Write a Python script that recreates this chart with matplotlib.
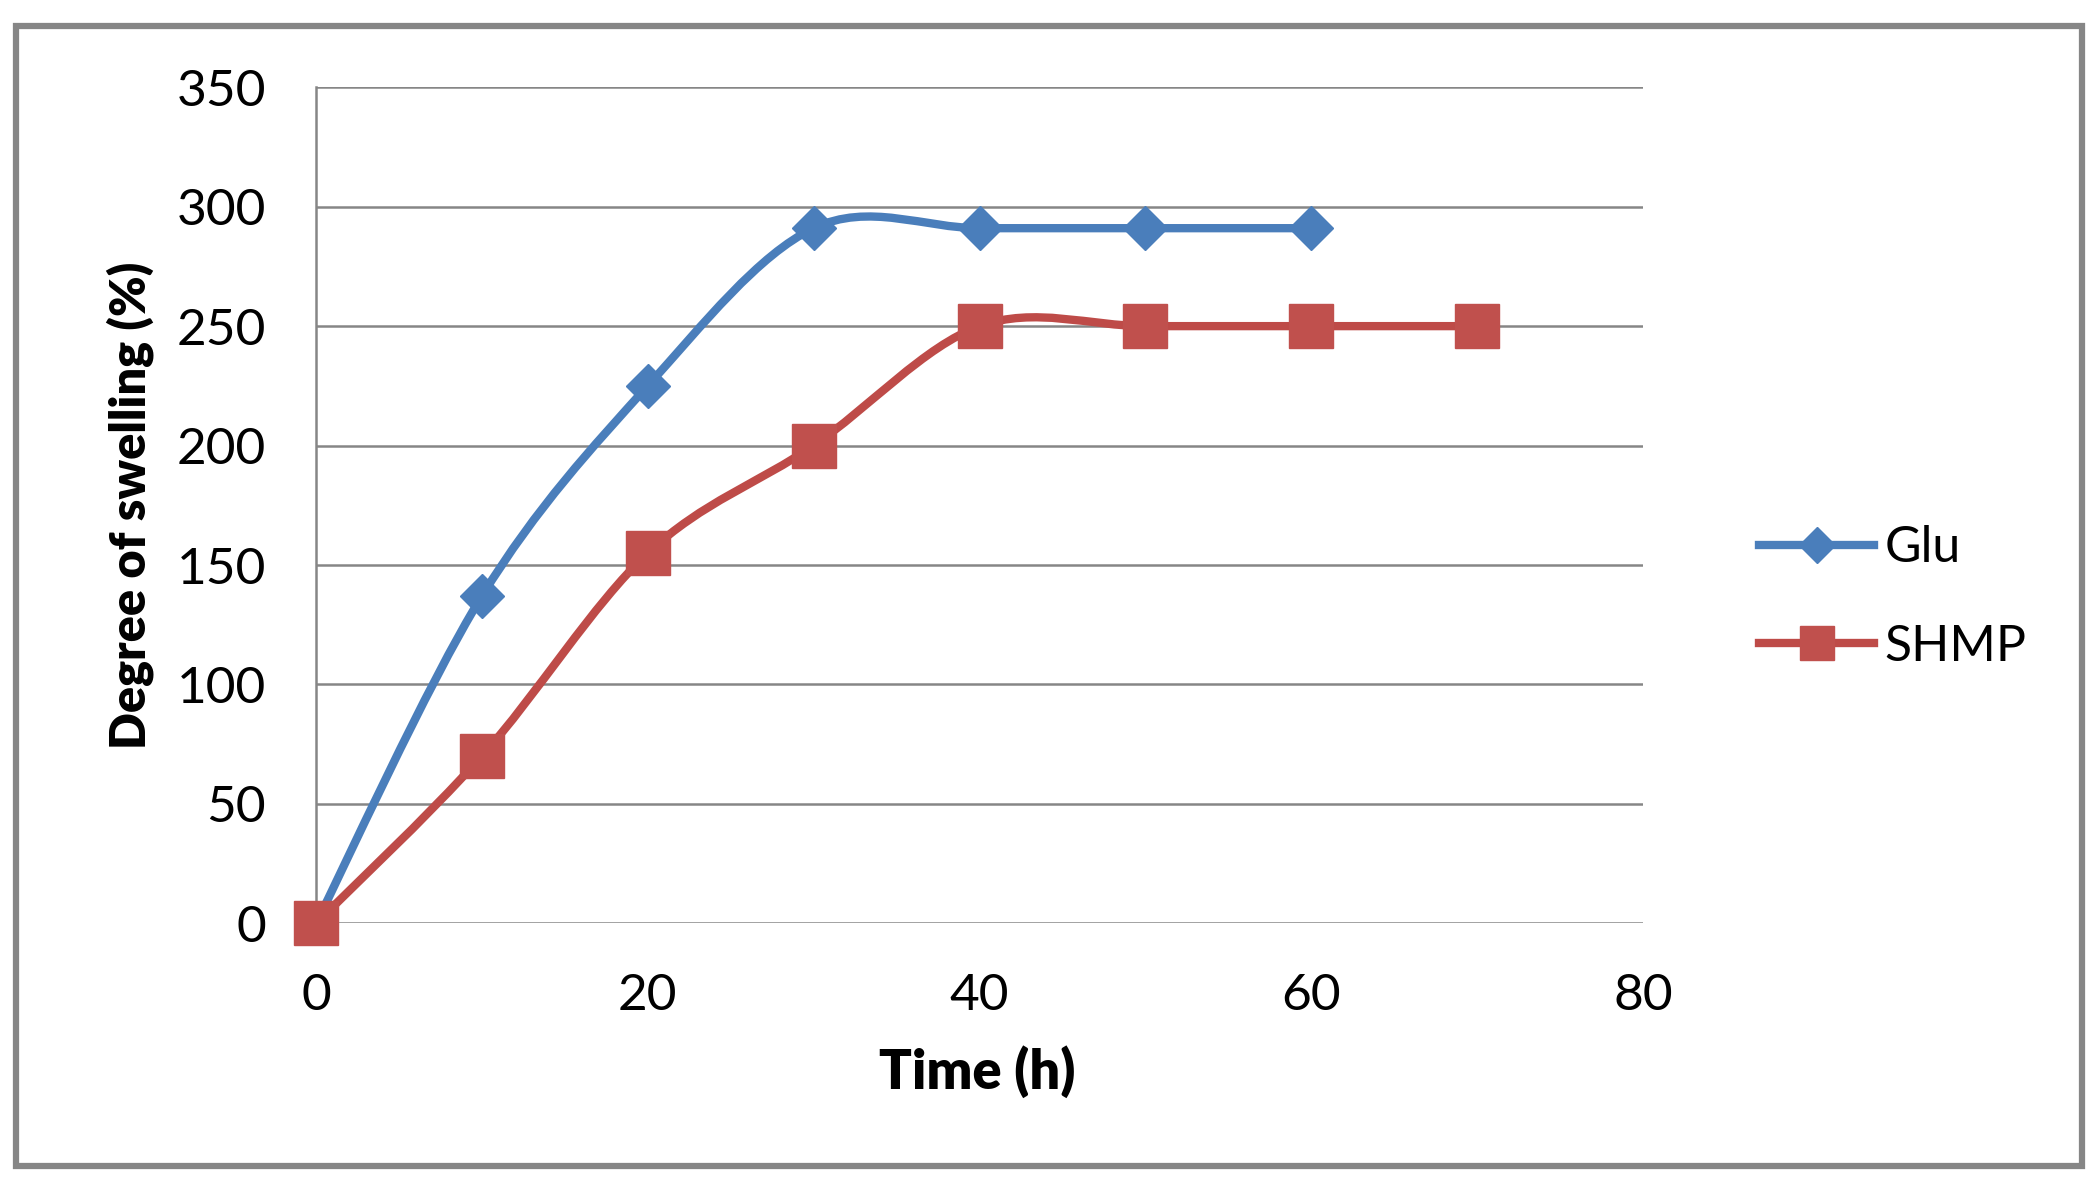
import numpy as np
import matplotlib.pyplot as plt
from matplotlib.path import Path
from matplotlib.patches import PathPatch, Rectangle
from matplotlib.lines import Line2D

plt.rcParams['font.family'] = ['Lato', 'DejaVu Sans']

# data
glu_time = [0, 10, 20, 30, 40, 50, 60]
glu_swelling = [0, 137, 225, 291, 291, 291, 291]
shmp_time = [0, 10, 20, 30, 40, 50, 60, 70]
shmp_swelling = [0, 70, 155, 200, 250, 250, 250, 250]
x_ticks = [0, 20, 40, 60, 80]
y_ticks = [0, 50, 100, 150, 200, 250, 300, 350]

blue = '#4A7EBB'
red = '#BE4B48'
grey = '#868686'


def smooth_path(xs, ys):
    # excel style smoothed line: cubic bezier through every point
    pts = np.column_stack([xs, ys]).astype(float)
    n = len(pts)
    verts = [pts[0]]
    codes = [Path.MOVETO]
    for i in range(n - 1):
        p0 = pts[i - 1] if i > 0 else pts[i]
        p1 = pts[i]
        p2 = pts[i + 1]
        p3 = pts[i + 2] if i + 2 < n else pts[i + 1]
        c1 = p1 + (p2 - p0) / 6.0
        c2 = p2 - (p3 - p1) / 6.0
        verts += [c1, c2, p2]
        codes += [Path.CURVE4] * 3
    return Path(verts, codes)


fig = plt.figure(figsize=(20.98, 11.95), dpi=100)
ax = fig.add_axes([0.1506, 0.2273, 0.6326, 0.6997])

# outer chart frame
fig.patches.append(Rectangle((0.0077, 0.024), 0.9845, 0.954, transform=fig.transFigure,
                             fill=False, edgecolor=grey, linewidth=4.5))

for y in y_ticks:
    ax.axhline(y, color=grey, linewidth=1.8, zorder=1)

ax.add_patch(PathPatch(smooth_path(glu_time, glu_swelling), fill=False,
                       edgecolor=blue, linewidth=6, capstyle='round', zorder=3))
ax.plot(glu_time, glu_swelling, linestyle='none', marker='D', markersize=22,
        color=blue, zorder=4, clip_on=False)
ax.add_patch(PathPatch(smooth_path(shmp_time, shmp_swelling), fill=False,
                       edgecolor=red, linewidth=6, capstyle='round', zorder=5))
ax.plot(shmp_time, shmp_swelling, linestyle='none', marker='s', markersize=31,
        color='#C0504D', zorder=6, clip_on=False)

ax.set_xlim(0, 80)
ax.set_ylim(0, 350)
ax.set_xticks(x_ticks)
ax.set_yticks(y_ticks)
ax.tick_params(length=0, labelsize=37, pad=36)
for s in ['top', 'right', 'bottom']:
    ax.spines[s].set_visible(False)
ax.spines['left'].set_color(grey)
ax.spines['left'].set_linewidth(1.8)

fig.text(0.062, 0.577, 'Degree of swelling (%)', rotation=90, ha='center', va='center',
         fontsize=35, fontweight='heavy')
fig.text(0.466, 0.103, 'Time (h)', ha='center', va='center', fontsize=39, fontweight='heavy')

handles = [Line2D([], [], color=blue, linewidth=6, marker='D', markersize=18),
           Line2D([], [], color=red, linewidth=6, marker='s', markersize=24,
                  markerfacecolor='#C0504D', markeredgecolor='#C0504D')]
fig.legend(handles, ['Glu', 'SHMP'], loc='center left', bbox_to_anchor=(0.8386, 0.5),
           frameon=False, fontsize=36, handlelength=2.3, handletextpad=0.2,
           labelspacing=1.05, borderpad=0, borderaxespad=0)

fig.savefig('out.png', dpi=100)
